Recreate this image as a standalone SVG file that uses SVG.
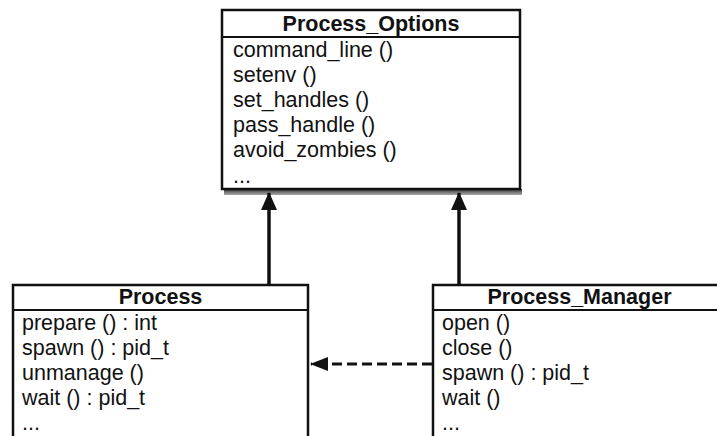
<svg xmlns="http://www.w3.org/2000/svg" width="717" height="436" viewBox="0 0 717 436">
  <defs>
    <style>
      .box { fill: #fff; stroke: #111; stroke-width: 2.5; }
      .div { stroke: #111; stroke-width: 2; }
      .title { font-family: "Liberation Sans", Arial, sans-serif; font-size: 21.5px; font-weight: bold; fill: #111; text-anchor: middle; }
      .op { font-family: "Liberation Sans", Arial, sans-serif; font-size: 21.5px; fill: #111; }
      .gen { stroke: #111; stroke-width: 3.5; fill: none; }
      .dep { stroke: #111; stroke-width: 3; fill: none; stroke-dasharray: 10 5; }
    </style>
    <marker id="tri" viewBox="0 0 18 16" refX="17" refY="8" markerWidth="18" markerHeight="16" markerUnits="userSpaceOnUse" orient="auto">
      <path d="M0,0 L18,8 L0,16 Z" fill="#111"/>
    </marker>
    <marker id="tri-small" viewBox="0 0 18 14" refX="17" refY="7" markerWidth="18" markerHeight="14" markerUnits="userSpaceOnUse" orient="auto">
      <path d="M0,0 L18,7 L0,14 Z" fill="#111"/>
    </marker>
    <linearGradient id="shade" x1="0" y1="0" x2="0" y2="1">
      <stop offset="0" stop-color="#333"/>
      <stop offset="1" stop-color="#aaa"/>
    </linearGradient>
  </defs>

  <!-- Process_Options class -->
  <g id="process-options">
    <rect x="224" y="189" width="298" height="6" fill="url(#shade)"/>
    <rect class="box" x="222" y="10" width="298" height="179"/>
    <line class="div" x1="222" y1="37" x2="520" y2="37"/>
    <text class="title" x="371" y="31">Process_Options</text>
    <text class="op" x="233" y="57">command_line ()</text>
    <text class="op" x="233" y="82">setenv ()</text>
    <text class="op" x="233" y="107">set_handles ()</text>
    <text class="op" x="233" y="132">pass_handle ()</text>
    <text class="op" x="233" y="157">avoid_zombies ()</text>
    <text class="op" x="233" y="183">...</text>
  </g>

  <!-- Process class -->
  <g id="process">
    <rect class="box" x="13" y="285" width="295" height="160"/>
    <line class="div" x1="13" y1="310" x2="308" y2="310"/>
    <text class="title" x="160.5" y="304">Process</text>
    <text class="op" x="22" y="330">prepare () : int</text>
    <text class="op" x="22" y="355">spawn () : pid_t</text>
    <text class="op" x="22" y="380">unmanage ()</text>
    <text class="op" x="22" y="405">wait () : pid_t</text>
    <text class="op" x="22" y="430">...</text>
  </g>

  <!-- Process_Manager class -->
  <g id="process-manager">
    <rect class="box" x="433" y="285" width="293" height="160"/>
    <line class="div" x1="433" y1="310" x2="726" y2="310"/>
    <text class="title" x="579.5" y="304">Process_Manager</text>
    <text class="op" x="442" y="330">open ()</text>
    <text class="op" x="442" y="355">close ()</text>
    <text class="op" x="442" y="380">spawn () : pid_t</text>
    <text class="op" x="442" y="405">wait ()</text>
    <text class="op" x="442" y="430">...</text>
  </g>

  <!-- connectors -->
  <g id="connectors">
    <line class="gen" x1="269" y1="285" x2="269" y2="193" marker-end="url(#tri)"/>
    <line class="gen" x1="459" y1="285" x2="459" y2="193" marker-end="url(#tri)"/>
    <line class="dep" x1="432" y1="364" x2="311" y2="364" marker-end="url(#tri-small)"/>
  </g>
</svg>
